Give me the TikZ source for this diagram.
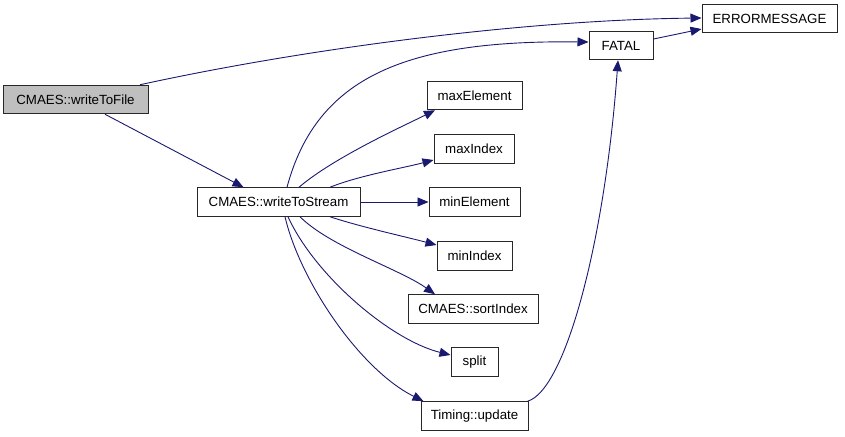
\documentclass[tikz,border=0pt]{standalone}
\usepackage{fontspec}
\setmainfont{Liberation Sans}
\usetikzlibrary{arrows.meta}
\definecolor{edgeblue}{RGB}{25,25,112}
\definecolor{boxborder}{RGB}{40,40,40}
\definecolor{boxgray}{RGB}{191,191,191}
\begin{document}
\begin{tikzpicture}[x=1pt,y=-1pt,
  box/.style={draw=boxborder,line width=1pt,fill=white,minimum height=28.5pt,inner sep=0pt,
    font=\fontsize{13.3}{15}\selectfont,text=black},
  link/.style={draw=edgeblue,line width=0.9pt,-{Triangle[length=11pt,width=9pt]}}]
\useasboundingbox (0,0) rectangle (845,436);
\node[box,fill=boxgray,minimum width=145pt] (wtf) at (75.5,99.5) {CMAES::writeToFile};
\node[box,minimum width=163pt] (wts) at (278.5,202) {CMAES::writeToStream};
\node[box,minimum width=135pt] (err) at (769.5,18.5) {ERRORMESSAGE};
\node[box,minimum width=64pt] (fatal) at (621,45.5) {FATAL};
\node[box,minimum width=95pt] (maxe) at (474.5,95.5) {maxElement};
\node[box,minimum width=80pt] (maxi) at (474,149) {maxIndex};
\node[box,minimum width=91pt] (mine) at (474.5,202) {minElement};
\node[box,minimum width=75pt] (mini) at (474.5,256) {minIndex};
\node[box,minimum width=130pt] (sort) at (473,309) {CMAES::sortIndex};
\node[box,minimum width=47pt] (split) at (474.5,362) {split};
\node[box,minimum width=107pt] (upd) at (474.5,416) {Timing::update};

\draw[link] ([xshift=64.5pt]wtf.north) .. controls +(160,-35) and +(-182,2) .. ([yshift=0.5pt]err.west);
\draw[link] ([xshift=29.5pt]wtf.south) -- ([xshift=-35pt]wts.north);
\draw[link] ([xshift=8.5pt]wts.north) .. controls +(30,-112) and +(-180,-2) .. ([yshift=3.5pt]fatal.west);
\draw[link] ([xshift=20.5pt]wts.north) .. controls +(35,-30) and +(-30,15) .. ([xshift=-39.5pt]maxe.south);
\draw[link] ([xshift=51.5pt]wts.north) .. controls +(30,-12) and +(-30,8) .. ([yshift=-11pt]maxi.west);
\draw[link] (wts.east) -- (mine.west);
\draw[link] ([xshift=51.5pt]wts.south) .. controls +(30,10) and +(-30,-8) .. ([yshift=11pt]mini.west);
\draw[link] ([xshift=21.5pt]wts.south) .. controls +(30,30) and +(-35,-25) .. ([xshift=-38pt]sort.north);
\draw[link] ([xshift=9.5pt]wts.south) .. controls +(27,59) and +(-60,-15) .. ([yshift=7pt]split.west);
\draw[link] ([xshift=6.5pt]wts.south) .. controls +(15,64) and +(-64,-32) .. ([xshift=3pt]upd.north west);
\draw[link] ([xshift=-1pt]upd.north east) .. controls +(38,-11) and +(-13,180) .. ([xshift=-3pt]fatal.south);
\draw[link] ([yshift=6.5pt]fatal.east) -- ([yshift=-10.5pt]err.west);
\end{tikzpicture}
\end{document}
